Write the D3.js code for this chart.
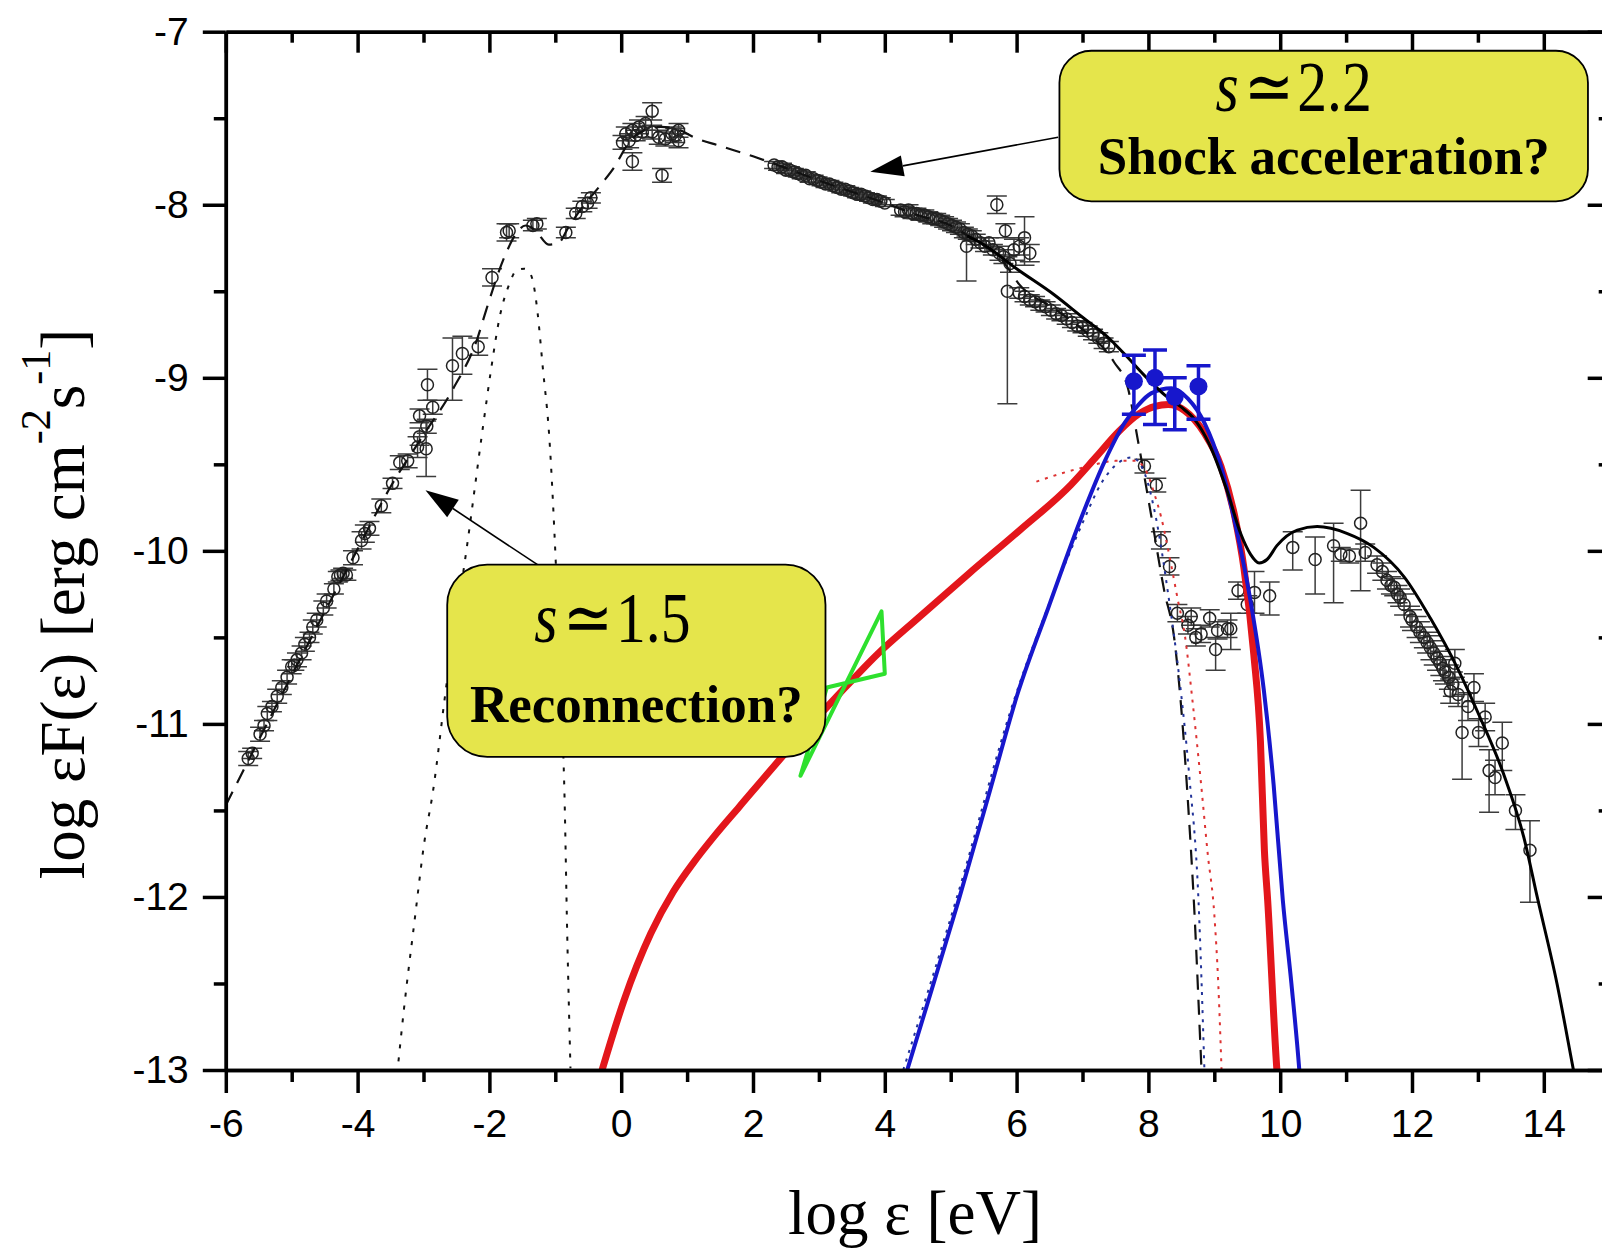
<!DOCTYPE html>
<html>
<head>
<meta charset="utf-8">
<script src="https://cdn.jsdelivr.net/npm/d3@7"></script>
<style>
  html, body { margin: 0; padding: 0; background: #fff; }
  svg { display: block; }
</style>
</head>
<body>
<svg id="chart" width="1602" height="1248"></svg>
<script>
// ---------------------------------------------------------------
// Crab Nebula spectral energy distribution: log εF(ε) vs log ε
// ---------------------------------------------------------------

// Axis ticks
const xMajorTicks = [-6, -4, -2, 0, 2, 4, 6, 8, 10, 12, 14];
const xMinorTicks = [-5, -3, -1, 1, 3, 5, 7, 9, 11, 13, 15];
const yMajorTicks = [-13, -12, -11, -10, -9, -8, -7];
const yMinorTicks = [-12.5, -11.5, -10.5, -9.5, -8.5, -7.5];

// Observations: [log ε, log εF, error down, error up]
const radioObs = [
  [-5.66, -11.20, 0.04, 0.04], [-5.60, -11.17, 0.03, 0.03], [-5.48, -11.06, 0.04, 0.04],
  [-5.42, -11.01, 0.03, 0.03], [-5.37, -10.94, 0.04, 0.04], [-5.30, -10.90, 0.03, 0.03],
  [-5.22, -10.84, 0.04, 0.04], [-5.15, -10.79, 0.04, 0.04], [-5.07, -10.73, 0.04, 0.04],
  [-5.00, -10.67, 0.04, 0.04], [-4.96, -10.66, 0.03, 0.03], [-4.92, -10.63, 0.04, 0.04],
  [-4.85, -10.59, 0.04, 0.04], [-4.80, -10.54, 0.04, 0.04], [-4.73, -10.50, 0.03, 0.03],
  [-4.68, -10.44, 0.04, 0.04], [-4.62, -10.40, 0.04, 0.04], [-4.52, -10.33, 0.04, 0.04],
  [-4.47, -10.29, 0.04, 0.04], [-4.36, -10.22, 0.03, 0.03], [-4.30, -10.15, 0.03, 0.03],
  [-4.26, -10.14, 0.03, 0.03], [-4.22, -10.13, 0.03, 0.03], [-4.17, -10.14, 0.03, 0.03],
  [-4.07, -10.04, 0.04, 0.04], [-3.94, -9.94, 0.05, 0.05], [-3.89, -9.90, 0.05, 0.05],
  [-3.82, -9.87, 0.04, 0.04], [-3.64, -9.74, 0.04, 0.04], [-3.47, -9.61, 0.03, 0.03],
  [-3.36, -9.49, 0.04, 0.04], [-3.24, -9.48, 0.04, 0.04], [-3.09, -9.40, 0.06, 0.06],
  [-2.96, -9.41, 0.16, 0.16], [-3.06, -9.34, 0.05, 0.05], [-3.06, -9.22, 0.04, 0.04],
  [-2.95, -9.28, 0.04, 0.04], [-2.86, -9.17, 0.04, 0.04], [-2.94, -9.04, 0.09, 0.09],
  [-2.56, -8.93, 0.20, 0.16], [-2.41, -8.86, 0.12, 0.10], [-2.17, -8.82, 0.05, 0.05]
];

const infraredObs = [
  [-1.96, -8.42, 0.05, 0.05], [-1.74, -8.16, 0.05, 0.05], [-1.70, -8.15, 0.04, 0.04],
  [-1.34, -8.12, 0.03, 0.03], [-1.28, -8.11, 0.03, 0.03], [-0.84, -8.16, 0.03, 0.03],
  [-0.69, -8.05, 0.03, 0.03], [-0.59, -8.01, 0.03, 0.03], [-0.51, -7.99, 0.03, 0.03],
  [-0.46, -7.96, 0.03, 0.03]
];

const opticalObs = [
  [0.02, -7.64, 0.04, 0.04], [0.07, -7.59, 0.04, 0.04], [0.12, -7.63, 0.04, 0.04],
  [0.17, -7.57, 0.04, 0.04], [0.17, -7.75, 0.05, 0.05], [0.22, -7.60, 0.03, 0.03],
  [0.27, -7.55, 0.04, 0.04], [0.32, -7.58, 0.03, 0.03], [0.37, -7.53, 0.04, 0.04],
  [0.47, -7.46, 0.05, 0.05], [0.47, -7.58, 0.04, 0.04], [0.57, -7.61, 0.04, 0.04],
  [0.62, -7.83, 0.04, 0.04], [0.67, -7.62, 0.04, 0.04], [0.77, -7.59, 0.04, 0.04],
  [0.82, -7.60, 0.04, 0.04], [0.87, -7.57, 0.04, 0.04], [0.87, -7.63, 0.04, 0.04]
];

const softXrayObs = [
  [2.32, -7.77, 0.02, 0.02], [2.38, -7.78, 0.02, 0.02], [2.44, -7.78, 0.02, 0.02],
  [2.50, -7.80, 0.02, 0.02], [2.56, -7.80, 0.02, 0.02], [2.62, -7.81, 0.02, 0.02],
  [2.68, -7.82, 0.02, 0.02], [2.74, -7.83, 0.02, 0.02], [2.80, -7.83, 0.02, 0.02],
  [2.86, -7.85, 0.02, 0.02], [2.92, -7.85, 0.02, 0.02], [2.98, -7.86, 0.02, 0.02],
  [3.04, -7.87, 0.02, 0.02], [3.10, -7.88, 0.02, 0.02], [3.16, -7.88, 0.02, 0.02],
  [3.22, -7.89, 0.02, 0.02], [3.28, -7.90, 0.02, 0.02], [3.34, -7.91, 0.02, 0.02],
  [3.40, -7.91, 0.02, 0.02], [3.46, -7.92, 0.02, 0.02], [3.52, -7.93, 0.02, 0.02],
  [3.58, -7.94, 0.02, 0.02], [3.64, -7.94, 0.02, 0.02], [3.70, -7.95, 0.02, 0.02],
  [3.76, -7.96, 0.02, 0.02], [3.82, -7.97, 0.02, 0.02], [3.88, -7.97, 0.02, 0.02],
  [3.94, -7.98, 0.02, 0.02], [4.00, -7.99, 0.02, 0.02]
];

const hardXrayObs = [
  [4.24, -8.03, 0.03, 0.03], [4.30, -8.04, 0.03, 0.03], [4.36, -8.03, 0.03, 0.03],
  [4.42, -8.05, 0.03, 0.03], [4.48, -8.05, 0.03, 0.03], [4.54, -8.06, 0.03, 0.03],
  [4.60, -8.06, 0.03, 0.03], [4.66, -8.07, 0.03, 0.03], [4.72, -8.08, 0.03, 0.03],
  [4.78, -8.08, 0.03, 0.03], [4.84, -8.09, 0.03, 0.03], [4.90, -8.10, 0.03, 0.03],
  [4.96, -8.11, 0.03, 0.03], [5.02, -8.12, 0.03, 0.03], [5.08, -8.13, 0.03, 0.03],
  [5.14, -8.14, 0.03, 0.03], [5.20, -8.16, 0.03, 0.03], [5.26, -8.17, 0.03, 0.03],
  [5.32, -8.18, 0.03, 0.03], [5.24, -8.24, 0.20, 0.06], [5.38, -8.20, 0.03, 0.03],
  [5.45, -8.22, 0.03, 0.03], [5.52, -8.24, 0.03, 0.03], [5.58, -8.22, 0.03, 0.03],
  [5.64, -8.26, 0.03, 0.03], [5.70, -8.00, 0.05, 0.05], [5.74, -8.28, 0.04, 0.04],
  [5.80, -8.30, 0.04, 0.04], [5.83, -8.15, 0.04, 0.04], [5.86, -8.50, 0.65, 0.20],
  [5.90, -8.34, 0.05, 0.05], [5.96, -8.26, 0.06, 0.06], [6.04, -8.24, 0.05, 0.05],
  [6.12, -8.19, 0.16, 0.12], [6.20, -8.28, 0.05, 0.05]
];

const mevObs = [
  [6.04, -8.51, 0.03, 0.03], [6.12, -8.53, 0.03, 0.03], [6.20, -8.55, 0.03, 0.03],
  [6.28, -8.56, 0.03, 0.03], [6.36, -8.58, 0.03, 0.03], [6.44, -8.59, 0.03, 0.03],
  [6.52, -8.61, 0.03, 0.03], [6.60, -8.63, 0.03, 0.03], [6.68, -8.64, 0.03, 0.03],
  [6.76, -8.66, 0.03, 0.03], [6.84, -8.68, 0.03, 0.03], [6.92, -8.70, 0.03, 0.03],
  [7.00, -8.71, 0.03, 0.03], [7.08, -8.73, 0.03, 0.03], [7.16, -8.75, 0.03, 0.03],
  [7.24, -8.77, 0.03, 0.03], [7.32, -8.80, 0.03, 0.03], [7.40, -8.82, 0.03, 0.03]
];

const gevObs = [
  [7.94, -9.51, 0.04, 0.04], [8.12, -9.62, 0.04, 0.04], [8.19, -9.94, 0.05, 0.05],
  [8.32, -10.09, 0.05, 0.05], [8.44, -10.36, 0.05, 0.05], [8.60, -10.43, 0.05, 0.05],
  [8.65, -10.38, 0.05, 0.05], [8.72, -10.50, 0.05, 0.05], [8.80, -10.48, 0.05, 0.05],
  [8.93, -10.39, 0.05, 0.05], [9.02, -10.57, 0.12, 0.07], [9.05, -10.46, 0.05, 0.05],
  [9.20, -10.45, 0.05, 0.05], [9.25, -10.45, 0.12, 0.09], [9.36, -10.23, 0.05, 0.05],
  [9.50, -10.31, 0.05, 0.05], [9.61, -10.24, 0.12, 0.12], [9.84, -10.26, 0.11, 0.08]
];

const tevObs = [
  [10.19, -9.98, 0.13, 0.09], [10.53, -10.05, 0.20, 0.13], [10.81, -9.97, 0.33, 0.13],
  [10.92, -10.02, 0.04, 0.04], [11.05, -10.03, 0.04, 0.04], [11.22, -9.84, 0.39, 0.19],
  [11.29, -10.01, 0.05, 0.05], [11.47, -10.08, 0.05, 0.05], [11.55, -10.12, 0.05, 0.05],
  [11.62, -10.17, 0.05, 0.05], [11.68, -10.20, 0.05, 0.05], [11.73, -10.21, 0.05, 0.05],
  [11.78, -10.25, 0.05, 0.05], [11.82, -10.27, 0.05, 0.05], [11.88, -10.31, 0.06, 0.06],
  [11.97, -10.38, 0.06, 0.06], [12.00, -10.40, 0.06, 0.06], [12.07, -10.44, 0.06, 0.06],
  [12.12, -10.47, 0.06, 0.06], [12.18, -10.50, 0.06, 0.06], [12.23, -10.53, 0.06, 0.06],
  [12.28, -10.56, 0.07, 0.07], [12.33, -10.59, 0.07, 0.07], [12.38, -10.62, 0.07, 0.07],
  [12.43, -10.65, 0.07, 0.07], [12.47, -10.68, 0.07, 0.07], [12.50, -10.70, 0.07, 0.07],
  [12.56, -10.73, 0.07, 0.07], [12.58, -10.81, 0.07, 0.07], [12.62, -10.77, 0.07, 0.07],
  [12.65, -10.65, 0.08, 0.08], [12.70, -10.83, 0.07, 0.07], [12.76, -11.05, 0.27, 0.22],
  [12.85, -10.90, 0.08, 0.08], [12.94, -10.79, 0.08, 0.08], [13.01, -11.05, 0.08, 0.08],
  [13.11, -10.96, 0.08, 0.08], [13.17, -11.27, 0.24, 0.12], [13.26, -11.31, 0.10, 0.10],
  [13.37, -11.11, 0.16, 0.12], [13.57, -11.50, 0.11, 0.09], [13.79, -11.73, 0.30, 0.17]
];

// Flare points (filled blue)
const flareObs = [
  [7.78, -9.02, 0.19, 0.15], [8.10, -9.00, 0.27, 0.16],
  [8.40, -9.11, 0.19, 0.11], [8.76, -9.05, 0.19, 0.12]
];

// Model curves
const syncE = [-6.00, -5.00, -4.00, -3.50, -3.00, -2.56, -2.18, -2.05, -1.77, -1.60, -1.45, -1.30, -1.10, -0.95, -0.80,
  -0.60, -0.30, -0.10, 0.10, 0.30, 0.60, 0.90, 1.10, 1.50, 2.00, 2.30, 3.00, 4.00, 4.50, 5.00, 5.30, 5.80, 6.04,
  6.57, 7.00, 7.48, 7.69, 7.84, 8.04, 8.24, 8.39, 8.49, 8.60, 8.70, 8.80, 8.83];
const syncF = [-11.47, -10.72, -9.99, -9.63, -9.33, -9.07, -8.77, -8.61, -8.30, -8.17, -8.12, -8.15, -8.23, -8.22, -8.13,
  -8.02, -7.88, -7.78, -7.65, -7.58, -7.55, -7.57, -7.61, -7.66, -7.72, -7.76, -7.86, -7.99, -8.06, -8.12, -8.19, -8.33, -8.46,
  -8.60, -8.72, -8.91, -9.06, -9.36, -9.79, -10.23, -10.50, -10.87, -11.45, -12.10, -12.95, -13.20];

const dustE = [-3.38, -3.30, -3.13, -2.99, -2.86, -2.65, -2.35, -2.10, -1.97, -1.85, -1.70, -1.59, -1.47, -1.39,
  -1.32, -1.27, -1.19, -1.09, -0.99, -0.91, -0.86, -0.82, -0.77];
const dustF = [-12.95, -12.66, -12.12, -11.69, -11.40, -10.77, -10.00, -9.29, -8.94, -8.66, -8.46, -8.38, -8.37, -8.39,
  -8.48, -8.62, -8.94, -9.35, -10.09, -10.86, -11.42, -12.20, -12.99];

const totalE = [5.25, 5.50, 6.00, 6.57, 7.00, 7.37, 7.63, 8.00, 8.25, 8.50, 8.70, 8.92, 9.20, 9.40, 9.55, 9.68, 9.80,
  9.95, 10.26, 10.56, 11.02, 11.42, 11.88, 12.28, 12.68, 13.03, 13.39, 13.70, 13.90, 14.20, 14.45, 14.50];
const totalF = [-8.18, -8.23, -8.37, -8.52, -8.65, -8.76, -8.86, -9.01, -9.10, -9.17, -9.24, -9.38, -9.66, -9.90, -10.02,
  -10.07, -10.05, -9.97, -9.88, -9.86, -9.90, -9.98, -10.15, -10.39, -10.67, -10.96, -11.29, -11.66, -12.00, -12.50, -13.00, -13.10];

const redE = [-0.29, 0.04, 0.45, 0.79, 1.10, 1.41, 1.79, 2.65, 3.30, 3.88, 4.50, 5.28, 6.05, 6.82, 7.20, 7.55, 7.85, 8.10,
  8.30, 8.55, 8.85, 9.10, 9.31, 9.45, 9.60, 9.70, 9.76, 9.81, 9.95, 9.97];
const redF = [-13.00, -12.60, -12.21, -11.97, -11.80, -11.65, -11.48, -11.10, -10.83, -10.60, -10.39, -10.13, -9.88, -9.62,
  -9.46, -9.31, -9.21, -9.165, -9.155, -9.19, -9.32, -9.51, -9.80, -10.10, -10.60, -11.10, -11.73, -12.02, -13.00, -13.10];

const blueE = [4.34, 4.70, 5.12, 5.60, 6.02, 6.48, 6.98, 7.34, 7.64, 7.84, 8.04, 8.35, 8.60, 8.85, 9.10, 9.35, 9.55,
  9.75, 9.90, 10.04, 10.17, 10.29, 10.31];
const blueF = [-13.00, -12.55, -12.02, -11.38, -10.82, -10.33, -9.81, -9.48, -9.26, -9.16, -9.09, -9.06, -9.12, -9.26,
  -9.51, -9.90, -10.29, -10.80, -11.35, -12.02, -12.50, -13.00, -13.10];

const blueDotE = [4.28, 5.08, 5.98, 6.50, 7.00, 7.30, 7.55, 7.75, 7.95, 8.12, 8.30, 8.48, 8.62, 8.76, 8.85];
const blueDotF = [-13.00, -12.02, -10.84, -10.30, -9.84, -9.60, -9.49, -9.46, -9.56, -9.82, -10.25, -10.77, -11.30, -12.02, -13.00];

const redDotE = [6.30, 6.70, 7.10, 7.50, 7.80, 7.98, 8.09, 8.19, 8.35, 8.45, 8.55, 8.67, 8.80, 8.90, 9.00, 9.06, 9.11];
const redDotF = [-9.60, -9.55, -9.51, -9.48, -9.48, -9.55, -9.67, -9.80, -10.09, -10.29, -10.48, -10.87, -11.35, -11.75, -12.10, -12.50, -13.00];

// X-ray butterfly (flare spectrum)
const bowtieE = [2.72, 3.95, 4.00, 3.12];
const bowtieF = [-11.30, -10.35, -10.71, -10.79];

// ---------------------------------------------------------------
const svg = d3.select('#chart');
const W = 1602, H = 1248;

const x = d3.scaleLinear().domain([-6, 15]).range([225.8, 1609.7]);
const y = d3.scaleLinear().domain([-13, -7]).range([1070, 31.7]);

const sansFont = "'Liberation Sans', Arial, Helvetica, sans-serif";
const serifFont = "'Liberation Serif', 'Times New Roman', Times, serif";

svg.append('rect').attr('width', W).attr('height', H).attr('fill', '#fff');

svg.append('defs').append('clipPath').attr('id', 'plotClip')
  .append('rect')
  .attr('x', x(-6)).attr('y', y(-7))
  .attr('width', x(15) - x(-6)).attr('height', y(-13) - y(-7));

const plot = svg.append('g').attr('clip-path', 'url(#plotClip)');

// ---- observations with error bars
const obsGroups = [radioObs, infraredObs, opticalObs, softXrayObs, hardXrayObs, mevObs, gevObs, tevObs];
const obsAll = obsGroups.flat();

const obsG = plot.append('g');
const capHalf = 10;
obsG.selectAll('path.err').data(obsAll).enter().append('path')
  .attr('class', 'err')
  .attr('d', d => {
    const cx = x(d[0]), yt = y(d[1] + d[3]), yb = y(d[1] - d[2]);
    return `M${cx},${yt}L${cx},${yb}M${cx - capHalf},${yt}L${cx + capHalf},${yt}M${cx - capHalf},${yb}L${cx + capHalf},${yb}`;
  })
  .attr('fill', 'none').attr('stroke', '#3c3c3c').attr('stroke-width', 1.5);
obsG.selectAll('circle').data(obsAll).enter().append('circle')
  .attr('cx', d => x(d[0])).attr('cy', d => y(d[1])).attr('r', 6)
  .attr('fill', 'none').attr('stroke', '#222').attr('stroke-width', 1.5);

// ---- model curves
function curve(es, fs) { return es.map((e, i) => [e, fs[i]]); }
const line = d3.line().x(d => x(d[0])).y(d => y(d[1])).curve(d3.curveMonotoneX);

plot.append('path').attr('d', line(curve(dustE, dustF)))
  .attr('fill', 'none').attr('stroke', '#111').attr('stroke-width', 2)
  .attr('stroke-dasharray', '4,9');

plot.append('path').attr('d', line(curve(syncE, syncF)))
  .attr('fill', 'none').attr('stroke', '#111').attr('stroke-width', 2.2)
  .attr('stroke-dasharray', '15,10');

plot.append('path').attr('d', line(curve(redDotE, redDotF)))
  .attr('fill', 'none').attr('stroke', '#d33').attr('stroke-width', 2)
  .attr('stroke-dasharray', '3,6');

plot.append('path').attr('d', line(curve(blueDotE, blueDotF)))
  .attr('fill', 'none').attr('stroke', '#223399').attr('stroke-width', 2)
  .attr('stroke-dasharray', '3,6');

plot.append('path').attr('d', line(curve(redE, redF)))
  .attr('fill', 'none').attr('stroke', '#e3161b').attr('stroke-width', 7)
  .attr('stroke-linejoin', 'round');

plot.append('path').attr('d', line(curve(blueE, blueF)))
  .attr('fill', 'none').attr('stroke', '#1717cc').attr('stroke-width', 4);

plot.append('path').attr('d', line(curve(totalE, totalF)))
  .attr('fill', 'none').attr('stroke', '#000').attr('stroke-width', 3);

plot.append('path')
  .attr('d', d3.line().x(d => x(d[0])).y(d => y(d[1])).curve(d3.curveLinearClosed)(curve(bowtieE, bowtieF)))
  .attr('fill', 'none').attr('stroke', '#2ee02e').attr('stroke-width', 4)
  .attr('stroke-linejoin', 'round');

// ---- flare points
const flareG = plot.append('g');
flareG.selectAll('path').data(flareObs).enter().append('path')
  .attr('d', d => {
    const cx = x(d[0]), yt = y(d[1] + d[3]), yb = y(d[1] - d[2]);
    return `M${cx},${yt}L${cx},${yb}M${cx - 12},${yt}L${cx + 12},${yt}M${cx - 12},${yb}L${cx + 12},${yb}`;
  })
  .attr('fill', 'none').attr('stroke', '#1717cc').attr('stroke-width', 3.5);
flareG.selectAll('circle').data(flareObs).enter().append('circle')
  .attr('cx', d => x(d[0])).attr('cy', d => y(d[1])).attr('r', 9)
  .attr('fill', '#1717cc');

// ---- axes
const axisW = 3.5;
function styleAxis(g) {
  g.selectAll('path.domain').attr('stroke', '#000').attr('stroke-width', axisW);
  g.selectAll('.tick line').attr('stroke', '#000').attr('stroke-width', axisW);
  g.selectAll('.tick text').attr('fill', '#000')
    .style('font-family', sansFont).style('font-size', '39px');
}
const fmt = d => String(d);

// bottom
svg.append('g').attr('transform', `translate(0,${y(-13)})`)
  .call(d3.axisBottom(x).tickValues(xMinorTicks).tickSize(12).tickSizeOuter(0).tickFormat(''))
  .call(styleAxis);
svg.append('g').attr('transform', `translate(0,${y(-13)})`)
  .call(d3.axisBottom(x).tickValues(xMajorTicks).tickSize(23).tickSizeOuter(0).tickPadding(16).tickFormat(fmt))
  .call(styleAxis);
// top (ticks pointing inward)
svg.append('g').attr('transform', `translate(0,${y(-7)})`)
  .call(d3.axisBottom(x).tickValues(xMinorTicks).tickSize(11).tickSizeOuter(0).tickFormat(''))
  .call(styleAxis);
svg.append('g').attr('transform', `translate(0,${y(-7)})`)
  .call(d3.axisBottom(x).tickValues(xMajorTicks).tickSize(21).tickSizeOuter(0).tickFormat(''))
  .call(styleAxis);
// left
svg.append('g').attr('transform', `translate(${x(-6)},0)`)
  .call(d3.axisLeft(y).tickValues(yMinorTicks).tickSize(12).tickSizeOuter(0).tickFormat(''))
  .call(styleAxis);
svg.append('g').attr('transform', `translate(${x(-6)},0)`)
  .call(d3.axisLeft(y).tickValues(yMajorTicks).tickSize(23).tickSizeOuter(0).tickPadding(14).tickFormat(fmt))
  .call(styleAxis);
// right (ticks pointing inward)
svg.append('g').attr('transform', `translate(${x(15)},0)`)
  .call(d3.axisLeft(y).tickValues(yMinorTicks).tickSize(11).tickSizeOuter(0).tickFormat(''))
  .call(styleAxis);
svg.append('g').attr('transform', `translate(${x(15)},0)`)
  .call(d3.axisLeft(y).tickValues(yMajorTicks).tickSize(22).tickSizeOuter(0).tickFormat(''))
  .call(styleAxis);

// ---- axis titles
svg.append('text')
  .attr('x', 915).attr('y', 1234)
  .attr('text-anchor', 'middle')
  .style('font-family', serifFont).style('font-size', '63px')
  .text('log ε [eV]');

const yTitle = svg.append('text')
  .attr('transform', 'translate(84,604) rotate(-90)')
  .attr('text-anchor', 'middle')
  .style('font-family', serifFont).style('font-size', '63px');
yTitle.append('tspan').text('log εF(ε) [erg cm');
yTitle.append('tspan').attr('dy', -34).style('font-size', '42px').text('-2');
yTitle.append('tspan').attr('dy', 34).text('s');
yTitle.append('tspan').attr('dy', -34).style('font-size', '42px').text('-1');
yTitle.append('tspan').attr('dy', 34).text(']');

// ---- annotations
function arrow(g, x1, y1, x2, y2, headLen, headW) {
  const dx = x2 - x1, dy = y2 - y1, L = Math.hypot(dx, dy);
  const ux = dx / L, uy = dy / L;
  const bx = x2 - ux * headLen, by = y2 - uy * headLen;
  g.append('line').attr('x1', x1).attr('y1', y1).attr('x2', bx).attr('y2', by)
    .attr('stroke', '#000').attr('stroke-width', 1.6);
  g.append('path')
    .attr('d', `M${x2},${y2}L${bx - uy * headW / 2},${by + ux * headW / 2}L${bx + uy * headW / 2},${by - ux * headW / 2}Z`)
    .attr('fill', '#000');
}

function noteBox(g, e0, e1, f0, f1, radius, slope, caption, slopeDx) {
  const bx = x(e0), by = y(f0), bw = x(e1) - x(e0), bh = y(f1) - y(f0);
  g.append('rect').attr('x', bx).attr('y', by).attr('width', bw).attr('height', bh)
    .attr('rx', radius).attr('ry', radius)
    .attr('fill', '#e5e54b').attr('stroke', '#000').attr('stroke-width', 1.8);
  // spectral index line, set in a tall narrow face
  const t1 = g.append('text')
    .attr('transform', `translate(${bx + bw / 2 + slopeDx},${by + bh * 0.40}) scale(0.84,1)`)
    .attr('text-anchor', 'middle')
    .style('font-family', serifFont).style('font-size', '71px');
  t1.append('tspan').style('font-style', 'italic').text('s');
  t1.append('tspan').attr('dx', 6).text('≃');
  t1.append('tspan').attr('dx', 4).text(slope);
  g.append('text')
    .attr('x', bx + bw / 2).attr('y', by + bh * 0.82)
    .attr('text-anchor', 'middle')
    .style('font-family', serifFont).style('font-size', '53px').style('font-weight', 'bold')
    .text(caption);
}

const notes = svg.append('g');
arrow(notes, x(6.63), y(-7.61), x(3.78), y(-7.81), 33, 21);
arrow(notes, x(-1.27), y(-10.08), x(-2.97), y(-9.65), 33, 21);
noteBox(notes, 6.65, 14.67, -7.11, -7.98, 32, '2.2', 'Shock acceleration?', -30);
noteBox(notes, -2.64, 3.10, -10.08, -11.19, 40, '1.5', 'Reconnection?', -24);
</script>
</body>
</html>
